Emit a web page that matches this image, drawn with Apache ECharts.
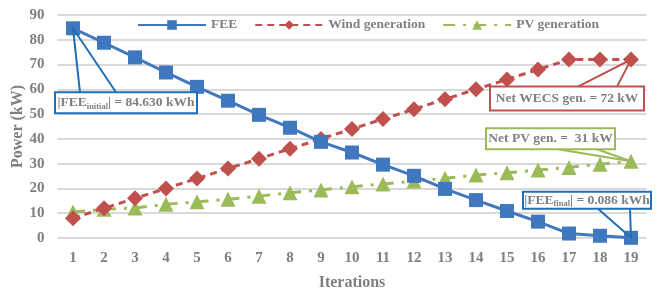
<!DOCTYPE html>
<html>
<head>
<meta charset="utf-8">
<script src="https://cdn.jsdelivr.net/npm/echarts@6/dist/echarts.min.js"></script>
<style>
  html, body { margin: 0; padding: 0; background: #fff; }
  #main { width: 662px; height: 291px; }
</style>
</head>
<body>
<div id="main"></div>
<script>
// data
var iterations = ['1', '2', '3', '4', '5', '6', '7', '8', '9', '10', '11', '12', '13', '14', '15', '16', '17', '18', '19'];
var fee = [84.63, 78.8, 72.9, 66.8, 61.0, 55.4, 49.7, 44.5, 38.8, 34.5, 29.6, 25.1, 19.8, 15.3, 10.9, 6.6, 1.8, 0.9, 0.086];
var wind = [8, 12, 16, 20, 24, 28, 32, 36, 40, 44, 48, 52, 56, 60, 64, 68, 72, 72, 72];
var pv = [10.5, 11.6, 12.1, 13.6, 14.6, 15.6, 16.9, 18.3, 19.4, 20.7, 21.8, 23.0, 24.1, 25.4, 26.3, 27.4, 28.5, 29.8, 31];
var yTicks = [0, 10, 20, 30, 40, 50, 60, 70, 80, 90];

var gray = '#7F7F7F';
var font = 'Liberation Serif';
var blue = '#3F78BF', red = '#C0504D', green = '#9BBB59';

var myChart = echarts.init(document.getElementById('main'));

myChart.setOption({
    animation: false,
    textStyle: { fontFamily: font, fontWeight: 'bold', color: gray },
    legend: {
        top: 13,
        left: 132,
        itemWidth: 68,
        itemHeight: 12,
        itemGap: 17,
        textStyle: { fontFamily: font, fontWeight: 'bold', fontSize: 13.5, color: gray },
        data: ['FEE', 'Wind generation', 'PV generation']
    },
    grid: { left: 57.5, right: 15.5, top: 15, bottom: 53, outerBoundsMode: 'none' },
    xAxis: {
        type: 'category',
        data: iterations,
        name: 'Iterations',
        nameLocation: 'middle',
        nameGap: 37,
        nameTextStyle: { fontFamily: font, fontWeight: 'bold', fontSize: 16, color: gray },
        axisLine: { show: false },
        axisTick: { show: false },
        axisLabel: { margin: 13, fontFamily: font, fontWeight: 'bold', fontSize: 15, color: gray }
    },
    yAxis: {
        type: 'value',
        min: yTicks[0],
        max: yTicks[yTicks.length - 1],
        interval: 10,
        axisLabel: { margin: 13, fontFamily: font, fontWeight: 'bold', fontSize: 15, color: gray },
        splitLine: { lineStyle: { color: '#D9D9D9', width: 2 } }
    },
    series: [
        {
            name: 'FEE',
            type: 'line',
            data: fee,
            symbol: 'rect',
            symbolSize: 14,
            z: 3,
            itemStyle: { color: blue },
            lineStyle: { color: blue, width: 3 }
        },
        {
            name: 'Wind generation',
            type: 'line',
            data: wind,
            symbol: 'diamond',
            symbolSize: 16,
            z: 2,
            itemStyle: { color: red },
            lineStyle: { color: red, width: 3, type: [7, 5] }
        },
        {
            name: 'PV generation',
            type: 'line',
            data: pv,
            symbol: 'triangle',
            symbolSize: 15,
            z: 1,
            itemStyle: { color: green },
            lineStyle: { color: green, width: 3, type: [12, 8, 3, 8] }
        }
    ]
});

// callout boxes pointing at data points (offsets relative to the point)
var callouts = [
    { series: 0, idx: 0, color: '#1F6FB5', box: [-18, 64, 142, 21], legs: [[7, 64], [43, 64]],
      text: '|FEE{sub|initial}| = 84.630 kWh' },
    { series: 1, idx: 18, color: red, box: [-141, 27, 154, 24], legs: [[-53, 27], [-14, 27]],
      text: 'Net WECS gen. = 72 kW' },
    { series: 2, idx: 18, color: green, box: [-145, -33, 129, 21], legs: [[-73, -12], [-34, -12]],
      text: 'Net PV gen. =  31 kW' },
    { series: 0, idx: 18, color: '#1F6FB5', box: [-108, -46, 128, 17], legs: [[-33, -29], [-1, -29]],
      text: '|FEE{sub|final}| = 0.086 kWh' }
];
var seriesData = [fee, wind, pv];

function drawCallouts() {
    var els = [];
    // y axis title, centred on the plot height
    var mid = myChart.convertToPixel({ yAxisIndex: 0 }, (yTicks[0] + yTicks[yTicks.length - 1]) / 2);
    els.push({
        type: 'text',
        silent: true,
        x: 18,
        y: mid,
        rotation: Math.PI / 2,
        style: {
            text: 'Power (kW)',
            align: 'center',
            verticalAlign: 'middle',
            fill: gray,
            font: 'bold 16px "Liberation Serif"'
        }
    });
    callouts.forEach(function (c) {
        var p = myChart.convertToPixel({ seriesIndex: c.series }, [c.idx, seriesData[c.series][c.idx]]);
        els.push({
            type: 'polyline',
            silent: true,
            z: 10,
            shape: { points: [[p[0] + c.legs[0][0], p[1] + c.legs[0][1]], p, [p[0] + c.legs[1][0], p[1] + c.legs[1][1]]] },
            style: { stroke: c.color, lineWidth: 2, fill: null }
        });
        els.push({
            type: 'rect',
            silent: true,
            z: 11,
            shape: { x: p[0] + c.box[0], y: p[1] + c.box[1], width: c.box[2], height: c.box[3] },
            style: { fill: '#fff', stroke: c.color, lineWidth: 2 }
        });
        els.push({
            type: 'text',
            silent: true,
            z: 12,
            x: p[0] + c.box[0] + c.box[2] / 2,
            y: p[1] + c.box[1] + c.box[3] / 2,
            style: {
                text: c.text,
                align: 'center',
                verticalAlign: 'middle',
                fill: gray,
                font: 'bold 13.5px "Liberation Serif"',
                rich: {
                    sub: { fontSize: 8.5, fontWeight: 'bold', fontFamily: font, fill: gray, padding: [7, 0, 0, 0] }
                }
            }
        });
    });
    myChart.setOption({ graphic: els });
}
drawCallouts();
</script>
</body>
</html>
